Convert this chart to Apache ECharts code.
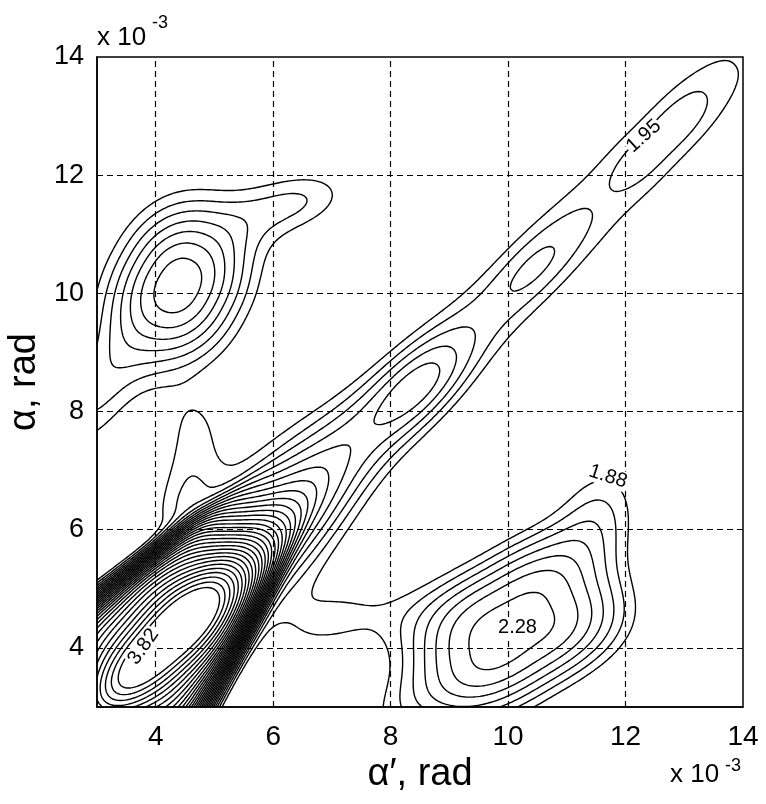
<!DOCTYPE html>
<html><head><meta charset="utf-8">
<script src="https://cdn.jsdelivr.net/npm/echarts@6/dist/echarts.min.js"></script>
<style>html,body{margin:0;padding:0;background:#fff}#c{width:766px;height:804px}</style>
</head><body><div id="c"></div>
<script>
// ---- axes / ticks ----
const axisMin = 3, axisMax = 14;
const tickLabels = [4, 6, 8, 10, 12, 14];
const gridXLines = [4, 6, 8, 10, 12];
const gridYLines = [4, 6, 8, 10, 12];

const levels = [1.880, 1.947, 2.013, 2.080, 2.147, 2.213, 2.280, 2.347, 2.413, 2.480,
                2.547, 2.613, 2.680, 2.747, 2.813, 2.880, 2.947, 3.013, 3.080, 3.147,
                3.213, 3.280, 3.347, 3.413, 3.480, 3.547, 3.613, 3.680, 3.747, 3.813];

// ---- estimated density surface: background + peaks ----
// order: mainPlateau, mainCore, mainShoulder, ridgeUpper, ridge, subPeak, ridgePeak1, ridgePeak2, ridgeTop,
//        topLeft, topLeftTail, topLeftBulge, mainUpperLobe, mainLowerLobe,
//        bottomRight, bottomRightTail, bottomRightFinger
const baseLevel = 1.70;
const peakX     = [4.00, 4.10, 5.90, 6.30, 10.00, 8.50, 10.45, 12.55, 13.30, 4.40, 2.90, 6.40, 4.55, 7.15, 10.15, 8.30, 11.60];
const peakY     = [4.05, 4.05, 5.70, 7.30, 10.00, 8.45, 10.45, 12.55, 13.35, 10.15, 8.20, 11.55, 7.05, 4.45, 4.38, 3.00, 6.40];
const peakAng   = [50, 45, 45, 40, 45, 45, 45, 45, 45, 62, 60, 15, 80, 20, 30, 30, 75];
const peakSu    = [1.9, 2.4, 1.4, 1.6, 6.0, 0.80, 0.75, 0.80, 0.60, 1.07, 0.90, 0.80, 1.05, 0.90, 1.5, 0.9, 0.70];
const peakSv    = [1.18, 0.42, 0.9, 0.55, 0.60, 0.40, 0.30, 0.28, 0.35, 0.84, 0.50, 0.42, 0.42, 0.45, 1.0, 0.5, 0.55];
const peakPu    = [3, 2, 2, 2, 3, 2, 2, 3, 2, 2.2, 2, 2, 4, 2, 3, 2, 2];
const peakPv    = [6, 2, 2, 2, 2.5, 2, 2, 2, 2, 2.2, 2, 2, 2, 2, 3, 2, 2];
const peakTaper = [0.16, 0, 0, 0, 0, 0, 0, 0, 0, 0, 0, 0, 0, 0, 0, 0, 0];
const peakAmp   = [1.60, 0.60, 0.22, 0.12, 0.23, 0.22, 0.10, 0.08, 0.05, 0.62, 0.24, 0.24, 0.19, 0.16, 0.60, 0.17, 0.20];

// ---- inline contour labels ----
const labelText = ['3.82', '2.28', '1.88', '1.95'];
const labelX    = [3.79, 10.16, 11.70, 12.31];
const labelY    = [4.02, 4.34, 6.90, 12.66];
const labelRot  = [55, 0, -18, 42];

function field(x, y) {
  let f = baseLevel;
  for (let i = 0; i < peakX.length; i++) {
    const t = peakAng[i] * Math.PI / 180;
    const dx = x - peakX[i], dy = y - peakY[i];
    const ur = dx * Math.cos(t) + dy * Math.sin(t);
    const svEff = peakSv[i] * Math.max(0.08, 1 - peakTaper[i] * ur);
    const u = ur / peakSu[i];
    const v = (-dx * Math.sin(t) + dy * Math.cos(t)) / svEff;
    f += peakAmp[i] * Math.exp(-0.5 * (Math.pow(Math.abs(u), peakPu[i]) + Math.pow(Math.abs(v), peakPv[i])));
  }
  return f;
}

// ---- marching squares ----
const N = 276;
const step = (axisMax - axisMin) / (N - 1);
const G = [];
for (let j = 0; j < N; j++) {
  const row = new Float64Array(N);
  for (let i = 0; i < N; i++) row[i] = field(axisMin + i * step, axisMin + j * step);
  G.push(row);
}

function contour(L) {
  const pts = new Map();
  function pt(key, x0, y0, v0, x1, y1, v1) {
    if (!pts.has(key)) {
      const t = (L - v0) / (v1 - v0);
      pts.set(key, [x0 + (x1 - x0) * t, y0 + (y1 - y0) * t]);
    }
    return key;
  }
  const segs = [];
  for (let j = 0; j < N - 1; j++) {
    for (let i = 0; i < N - 1; i++) {
      const v0 = G[j][i], v1 = G[j][i + 1], v2 = G[j + 1][i + 1], v3 = G[j + 1][i];
      const idx = (v0 > L ? 1 : 0) | (v1 > L ? 2 : 0) | (v2 > L ? 4 : 0) | (v3 > L ? 8 : 0);
      if (idx === 0 || idx === 15) continue;
      const x0 = axisMin + i * step, x1 = x0 + step, y0 = axisMin + j * step, y1 = y0 + step;
      const e = [
        () => pt('h' + i + '_' + j, x0, y0, v0, x1, y0, v1),
        () => pt('v' + (i + 1) + '_' + j, x1, y0, v1, x1, y1, v2),
        () => pt('h' + i + '_' + (j + 1), x0, y1, v3, x1, y1, v2),
        () => pt('v' + i + '_' + j, x0, y0, v0, x0, y1, v3)
      ];
      const c = (v0 + v1 + v2 + v3) / 4 > L;
      let pairs;
      switch (idx) {
        case 1: case 14: pairs = [[3, 0]]; break;
        case 2: case 13: pairs = [[0, 1]]; break;
        case 3: case 12: pairs = [[3, 1]]; break;
        case 4: case 11: pairs = [[1, 2]]; break;
        case 6: case 9: pairs = [[0, 2]]; break;
        case 7: case 8: pairs = [[3, 2]]; break;
        case 5: pairs = c ? [[0, 1], [2, 3]] : [[3, 0], [1, 2]]; break;
        case 10: pairs = c ? [[3, 0], [1, 2]] : [[0, 1], [2, 3]]; break;
      }
      for (const p of pairs) segs.push([e[p[0]](), e[p[1]]()]);
    }
  }
  const adj = new Map();
  segs.forEach((s, k) => {
    for (const key of s) { if (!adj.has(key)) adj.set(key, []); adj.get(key).push(k); }
  });
  const used = new Uint8Array(segs.length);
  const lines = [];
  function extend(startKey) {
    const out = [];
    let key = startKey;
    while (true) {
      const nb = adj.get(key).filter(q => !used[q]);
      if (!nb.length) break;
      const q = nb[0]; used[q] = 1;
      const s = segs[q];
      key = s[0] === key ? s[1] : s[0];
      out.push(key);
    }
    return out;
  }
  for (let k = 0; k < segs.length; k++) {
    if (used[k]) continue;
    used[k] = 1;
    const fwd = extend(segs[k][1]);
    const back = extend(segs[k][0]);
    const keys = back.reverse().concat([segs[k][0], segs[k][1]], fwd);
    lines.push(keys.map(kk => pts.get(kk)));
  }
  return lines;
}

const polylines = [];
levels.forEach(L => contour(L).forEach(p => polylines.push({ coords: p })));

const chart = echarts.init(document.getElementById('c'), null, { renderer: 'canvas' });
const font = 'Liberation Sans, Arial, Helvetica, sans-serif';
chart.setOption({
  animation: false,
  backgroundColor: '#fff',
  grid: { left: 97, right: 23, top: 57, bottom: 97, containLabel: false, outerBoundsMode: 'none',
          show: true, borderColor: '#000', borderWidth: 1.5, backgroundColor: 'transparent' },
  xAxis: {
    type: 'value', min: axisMin, max: axisMax, interval: 1,
    axisLine: { lineStyle: { color: '#000', width: 1.5 } },
    axisTick: { show: false }, splitLine: { show: false },
    axisLabel: { color: '#000', fontSize: 28, fontFamily: font, margin: 16,
      formatter: v => (tickLabels.indexOf(v) >= 0 ? String(v) : '') },
    name: 'α′, rad', nameLocation: 'middle', nameGap: 46,
    nameTextStyle: { color: '#000', fontSize: 38, fontFamily: font }
  },
  yAxis: {
    type: 'value', min: axisMin, max: axisMax, interval: 1,
    axisLine: { lineStyle: { color: '#000', width: 1.5 } },
    axisTick: { show: false }, splitLine: { show: false },
    axisLabel: { color: '#000', fontSize: 27, fontFamily: font, margin: 13,
      formatter: v => (tickLabels.indexOf(v) >= 0 ? String(v) : '') },
    name: 'α, rad', nameLocation: 'middle', nameGap: 52,
    nameTextStyle: { color: '#000', fontSize: 38, fontFamily: font }
  },
  graphic: [
    { type: 'text', left: 97, top: 25, style: { text: 'x 10', fill: '#000', font: '26px ' + font } },
    { type: 'text', left: 152, top: 14, style: { text: '-3', fill: '#000', font: '18px ' + font } },
    { type: 'text', left: 670, top: 762, style: { text: 'x 10', fill: '#000', font: '26px ' + font } },
    { type: 'text', left: 725, top: 757, style: { text: '-3', fill: '#000', font: '18px ' + font } }
  ],
  series: [
    {
      type: 'lines', coordinateSystem: 'cartesian2d', polyline: true, silent: true,
      lineStyle: { color: '#000', width: 1.4, opacity: 1 },
      data: polylines, z: 3
    },
    {
      type: 'scatter', symbolSize: 0, silent: true, z: 5,
      itemStyle: { opacity: 1 },
      data: labelText.map((t, i) => ({ value: [labelX[i], labelY[i]], name: t,
        label: { show: true, position: 'inside', formatter: t, rotate: labelRot[i], fontSize: 20, fontFamily: font, color: '#000', opacity: 1, backgroundColor: '#fff', padding: [0, 1] } })),
      markLine: {
        silent: true, symbol: 'none', label: { show: false },
        lineStyle: { color: '#000', type: [6, 4], width: 1.2, opacity: 1 },
        data: gridXLines.map(v => ({ xAxis: v })).concat(gridYLines.map(v => ({ yAxis: v })))
      }
    }
  ]
});
</script></body></html>
